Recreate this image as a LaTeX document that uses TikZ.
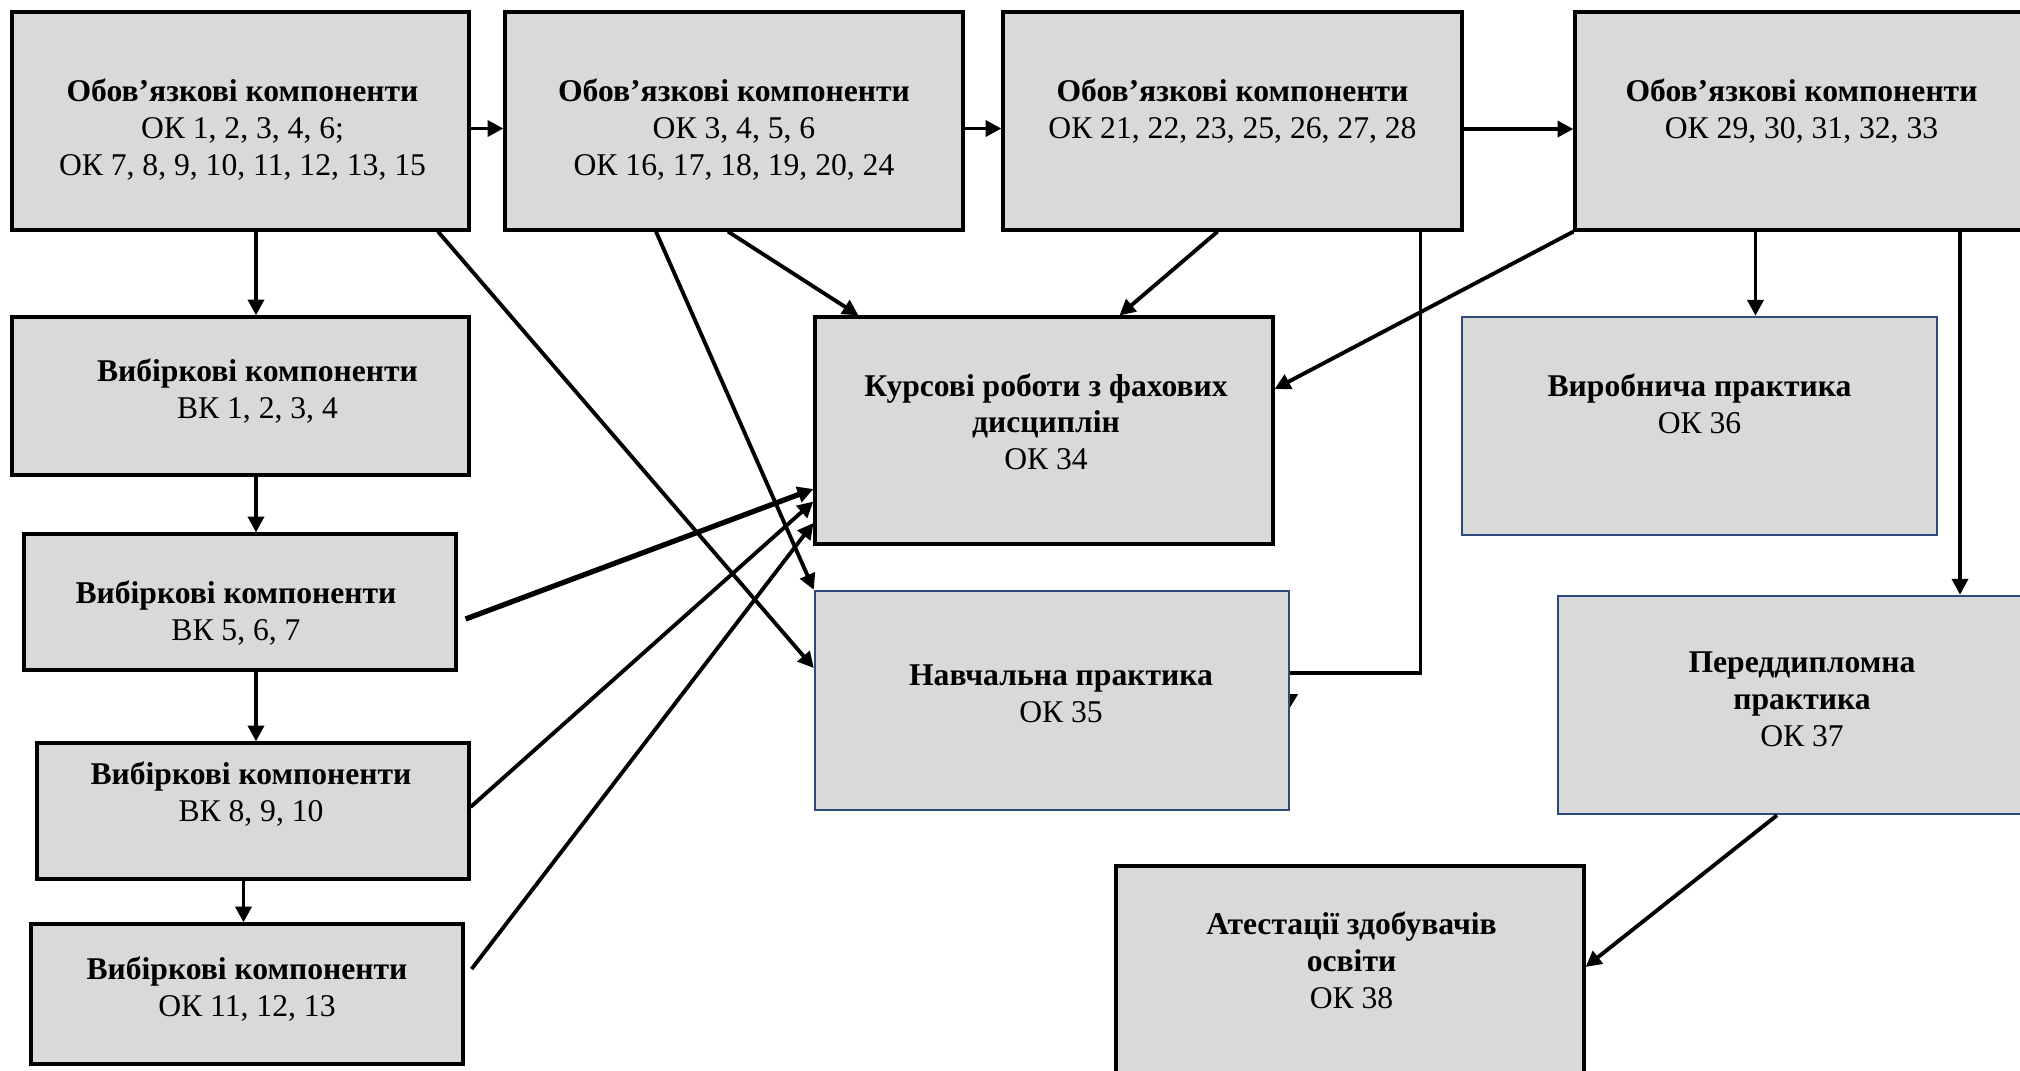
\documentclass[tikz,border=0pt]{standalone}
\usepackage{fontspec}
\setmainfont{Liberation Serif}
\usetikzlibrary{positioning,arrows.meta}
\definecolor{boxgray}{HTML}{D9D9D9}
\definecolor{boxblue}{HTML}{2F4B7C}

\begin{document}
\begin{tikzpicture}[every node/.style={font=\fontsize{9}{10.5}\selectfont}]
\tikzset{
  box/.style={draw=black, line width=0.9pt, fill=boxgray, inner sep=0pt},
  bluebox/.style={box, draw=boxblue, line width=0.7pt},
  txt/.style={align=center, inner sep=0pt},
  arrow/.style={-{Triangle[length=4.5pt, width=4.5pt]}, line width=1.1pt}
}
\useasboundingbox (0,0) rectangle (20.2,-10.7);

% Top row
\node[box, minimum width=4.57cm, minimum height=2.18cm,
  label={[txt, xshift=0.02cm, yshift=-0.09cm]center:{\textbf{Обов’язкові компоненти}\\ОК 1, 2, 3, 4, 6;\\ОК 7, 8, 9, 10, 11, 12, 13, 15}}]
  (okA) at (2.405,-1.21) {};
\node[box, minimum width=4.58cm, minimum height=2.18cm,
  label={[txt, yshift=-0.09cm]center:{\textbf{Обов’язкові компоненти}\\ОК 3, 4, 5, 6\\ОК 16, 17, 18, 19, 20, 24}}]
  (okB) at (7.34,-1.21) {};
\node[box, minimum width=4.59cm, minimum height=2.18cm,
  label={[txt, yshift=0.095cm]center:{\textbf{Обов’язкові компоненти}\\ОК 21, 22, 23, 25, 26, 27, 28}}]
  (okC) at (12.325,-1.21) {};
\node[box, minimum width=4.53cm, minimum height=2.18cm,
  label={[txt, yshift=0.095cm]center:{\textbf{Обов’язкові компоненти}\\ОК 29, 30, 31, 32, 33}}]
  (okD) at (18.015,-1.21) {};

% Left column
\node[box, minimum width=4.57cm, minimum height=1.58cm,
  label={[txt, xshift=0.17cm, yshift=0.045cm]center:{\textbf{Вибіркові компоненти}\\ВК 1, 2, 3, 4}}]
  (vkE) at (2.405,-3.96) {};
\node[box, minimum width=4.32cm, minimum height=1.36cm,
  label={[txt, xshift=-0.04cm, yshift=-0.115cm]center:{\textbf{Вибіркові компоненти}\\ВК 5, 6, 7}}]
  (vkF) at (2.40,-6.02) {};
\node[box, minimum width=4.32cm, minimum height=1.36cm,
  label={[txt, xshift=-0.02cm, yshift=0.17cm]center:{\textbf{Вибіркові компоненти}\\ВК 8, 9, 10}}]
  (vkG) at (2.53,-8.11) {};
\node[box, minimum width=4.32cm, minimum height=1.40cm,
  label={[txt, yshift=0.045cm]center:{\textbf{Вибіркові компоненти}\\ОК 11, 12, 13}}]
  (okH) at (2.47,-9.94) {};

% Course works and practices
\node[box, minimum width=4.58cm, minimum height=2.27cm,
  label={[txt, xshift=0.02cm, yshift=0.087cm]center:{\textbf{Курсові роботи з фахових}\\\textbf{дисциплін}\\ОК 34}}]
  (kurs) at (10.44,-4.305) {};
\node[bluebox, minimum width=4.74cm, minimum height=2.19cm,
  label={[txt, xshift=0.09cm, yshift=0.065cm]center:{\textbf{Навчальна практика}\\ОК 35}}]
  (navch) at (10.52,-7.005) {};
\node[bluebox, minimum width=4.75cm, minimum height=2.18cm,
  label={[txt, yshift=0.223cm]center:{\textbf{Виробнича практика}\\ОК 36}}]
  (vyrob) at (16.995,-4.26) {};
\node[bluebox, minimum width=4.88cm, minimum height=2.18cm,
  label={[txt, yshift=0.06cm]center:{\textbf{Переддипломна}\\\textbf{практика}\\ОК 37}}]
  (pered) at (18.02,-7.05) {};
\node[box, minimum width=4.68cm, minimum height=2.24cm,
  label={[txt, xshift=0.015cm, yshift=0.176cm]center:{\textbf{Атестації здобувачів}\\\textbf{освіти}\\ОК 38}}]
  (atest) at (13.50,-9.78) {};

% Top row arrows
\draw[arrow] ([yshift=-0.075cm]okA.east) -- ([yshift=-0.075cm]okA.east -| okB.west);
\draw[arrow] ([yshift=-0.075cm]okB.east) -- ([yshift=-0.075cm]okB.east -| okC.west);
\draw[arrow] ([yshift=-0.08cm]okC.east) -- ([yshift=-0.08cm]okC.east -| okD.west);

% Left column arrows
\draw[arrow] ([xshift=0.155cm]okA.south) -- ([xshift=0.155cm]okA.south |- vkE.north);
\draw[arrow] ([xshift=0.155cm]vkE.south) -- ([xshift=0.155cm]vkE.south |- vkF.north);
\draw[arrow] ([xshift=0.16cm]vkF.south) -- ([xshift=0.16cm]vkF.south |- vkG.north);
\draw[arrow] ([xshift=-0.095cm]vkG.south) -- ([xshift=-0.095cm]vkG.south |- okH.north);

% Arrows to course works and practices
\draw[arrow] ([xshift=1.975cm]okA.south) -- ([yshift=0.325cm]navch.west);
\draw[arrow] ([xshift=-0.78cm]okB.south) -- (navch.north west);
\draw[arrow] ([xshift=-0.06cm]okB.south) -- ([xshift=0.45cm]kurs.north west);
\draw[arrow] ([xshift=-0.15cm]okC.south) -- ([xshift=0.755cm]kurs.north);
\draw[arrow] (okD.south west) -- ([yshift=0.415cm]kurs.east);
\draw[line width=1.1pt] ([xshift=1.88cm]okC.south) |- ([yshift=0.275cm]navch.east);
\fill ([yshift=0.065cm]navch.east) -- ++(0.08,0) -- ([yshift=-0.065cm]navch.east) -- cycle;
\draw[arrow] ([xshift=-0.46cm]okD.south) -- ([xshift=-0.46cm]okD.south |- vyrob.north);
\draw[arrow] ([xshift=1.585cm]okD.south) -- ([xshift=1.585cm]okD.south |- pered.north);
\draw[arrow] ([xshift=-0.25cm]pered.south) -- ([yshift=0.11cm]atest.east);
\draw[arrow, line width=1.5pt] ([xshift=0.08cm, yshift=-0.17cm]vkF.east) -- ([yshift=-0.585cm]kurs.west);
\draw[arrow] ([yshift=0.04cm]vkG.east) -- ([yshift=-0.71cm]kurs.west);
\draw[arrow] ([xshift=0.07cm, yshift=0.25cm]okH.east) -- ([yshift=-0.925cm]kurs.west);
\end{tikzpicture}
\end{document}
